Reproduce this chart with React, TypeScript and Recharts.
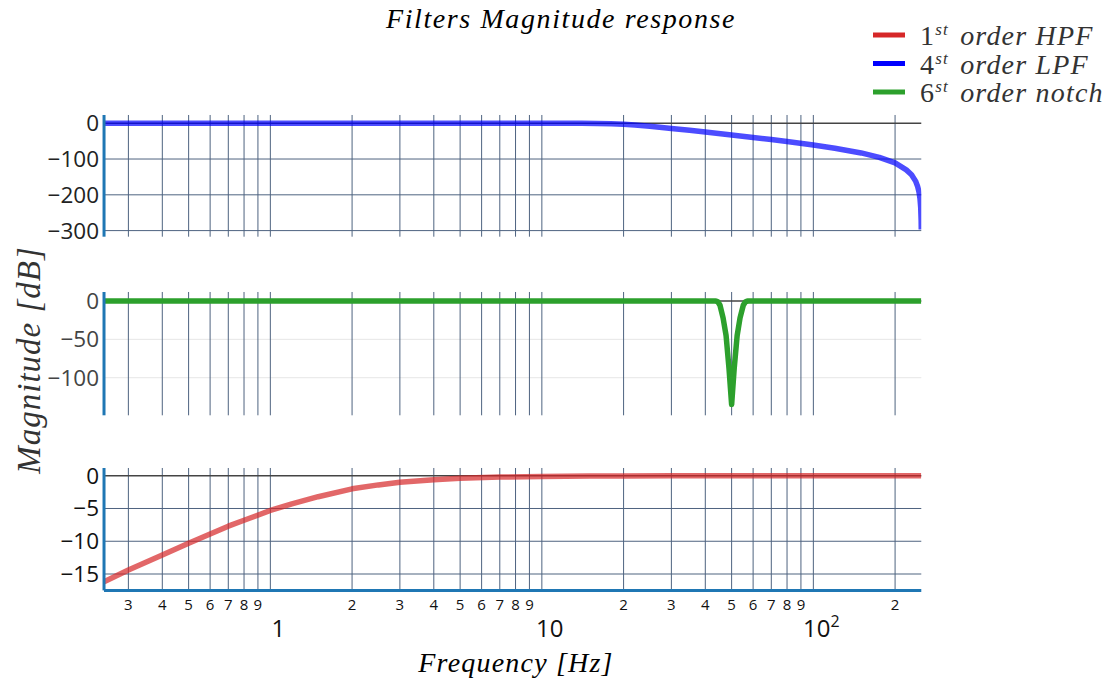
import React from 'react';
import { LineChart, Line, XAxis, YAxis, ReferenceLine } from 'recharts';

// frequency axis (Hz, log)
const X_DOMAIN = [0.244, 249.76];
const X_TICKS = [0.3, 0.4, 0.5, 0.6, 0.7, 0.8, 0.9, 1, 2, 3, 4, 5, 6, 7, 8, 9, 10, 20, 30, 40, 50, 60, 70, 80, 90, 100, 200];
const X_MAJOR = [1, 10, 100];

// 4th order LPF
const LPF_FREQ = [0.244, 5, 10, 12, 14, 16, 18, 20, 22, 25, 30, 35, 40, 50, 60, 70, 80, 100, 120, 150, 175, 200, 220, 230, 238, 242, 245, 247, 248.5, 249.5, 249.76];
const LPF_DB = [0, 0, 0, -0.1, -0.2, -0.7, -1.6, -3, -5, -8.5, -14.5, -19.9, -24.7, -32.8, -39.7, -45.7, -51.1, -60.8, -69.7, -83, -95.3, -110.9, -130.3, -143.8, -161.7, -175.8, -192.1, -209.9, -233.9, -272, -297];
const LPF_TICKS = [0, -100, -200, -300];

// 6th order notch
const NOTCH_FREQ = [0.244, 43.5, 44, 44.5, 45.3, 46.5, 47.7, 48.9, 50, 51.1, 52.4, 53.7, 55.2, 56.2, 57, 57.5, 249.76];
const NOTCH_DB = [0, 0, -0.3, -1, -5.6, -22, -45, -88, -135, -88, -45, -22, -5.6, -1, -0.3, 0, 0];
const NOTCH_TICKS = [0, -50, -100];

// 1st order HPF
const HPF_FREQ = [0.244, 0.3, 0.4, 0.5, 0.6, 0.7, 0.8, 1, 1.2, 1.5, 2, 2.5, 3, 4, 5, 7, 10, 15, 20, 30, 50, 100, 249.76];
const HPF_DB = [-16.2, -14.4, -12.1, -10.3, -8.9, -7.7, -6.8, -5.3, -4.3, -3.2, -2.0, -1.4, -1.0, -0.6, -0.4, -0.2, -0.1, -0.05, -0.03, -0.01, 0, 0, 0];
const HPF_TICKS = [0, -5, -10, -15];

const LEGEND = [
  { num: '1', rest: ' order HPF', color: '#d62728' },
  { num: '4', rest: ' order LPF', color: '#0000ff' },
  { num: '6', rest: ' order notch', color: '#2ca02c' },
];

const toRows = (f: number[], v: number[]) => f.map((x, i) => ({ f: x, db: v[i] }));

const W = 1113;
const LEFT = 44;
const YW = 60;
const RIGHT = 191.7;
const GRID = '#4d6280';
const AXIS = '#1f77b4';
const MATH = "'Liberation Serif', serif";
const SANS = "'Open Sans', sans-serif";

const minus = (v: number) => String(v).replace('-', '\u2212');

const XTick = (props: any) => {
  const { x, y, payload } = props;
  const v = payload.value;
  if (X_MAJOR.includes(v)) {
    return (
      <text x={x + 8} y={y + 47} textAnchor="middle" fontFamily={SANS} fontSize={24} fill="#111">
        {v === 100 ? (
          <>
            10<tspan dy={-10} fontSize={16}>2</tspan>
          </>
        ) : (
          String(v)
        )}
      </text>
    );
  }
  const digit = Math.round(v / Math.pow(10, Math.floor(Math.log10(v) + 1e-9)));
  return (
    <text x={x} y={y + 19.5} textAnchor="middle" fontFamily={SANS} fontSize={15} fill="#111">
      {digit}
    </text>
  );
};

type PanelProps = {
  top: number;
  plotH: number;
  data: { f: number; db: number }[];
  domain: number[];
  ticks: number[];
  color: string;
  opacity: number;
  hGrid: string;
  labelColor: string;
  showX?: boolean;
};

const Panel = ({ top, plotH, data, domain, ticks, color, opacity, hGrid, labelColor, showX }: PanelProps) => {
  const xh = showX ? 60 : 0;
  const height = 10 + plotH + (showX ? 0 : 10) + xh;
  return (
    <div style={{ position: 'absolute', left: 0, top }}>
      <LineChart
        width={W}
        height={height}
        data={data}
        margin={{ top: 10, right: RIGHT, left: LEFT, bottom: showX ? 0 : 10 }}
      >
        <XAxis
          dataKey="f"
          type="number"
          scale="log"
          domain={X_DOMAIN}
          allowDataOverflow
          ticks={X_TICKS}
          interval={0}
          hide={!showX}
          height={xh}
          tickLine={false}
          tickSize={0}
          tickMargin={0}
          axisLine={{ stroke: AXIS, strokeWidth: 3 }}
          tick={<XTick />}
        />
        <YAxis
          type="number"
          domain={domain}
          allowDataOverflow
          ticks={ticks}
          interval={0}
          width={YW}
          tickLine={false}
          tickSize={0}
          tickMargin={5}
          axisLine={{ stroke: AXIS, strokeWidth: 3 }}
          tickFormatter={minus}
          tick={{ fontFamily: SANS, fontSize: 22.5, fill: labelColor }}
        />
        {ticks
          .filter((t) => t !== 0)
          .map((t) => (
            <ReferenceLine key={`h${t}`} y={t} stroke={hGrid} strokeWidth={1} />
          ))}
        {X_TICKS.map((t) => (
          <ReferenceLine key={`v${t}`} x={t} stroke={GRID} strokeWidth={1} />
        ))}
        <ReferenceLine y={0} stroke="#444" strokeWidth={1.5} />
        <Line
          dataKey="db"
          type="linear"
          stroke={color}
          strokeOpacity={opacity}
          strokeWidth={5.5}
          strokeLinejoin="round"
          dot={false}
          isAnimationActive={false}
        />
      </LineChart>
    </div>
  );
};

export default function App() {
  return (
    <div style={{ position: 'absolute', left: 0, top: 0, width: W, height: 684, background: '#fff', overflow: 'hidden' }}>
      <Panel
        top={105}
        plotH={121.7}
        data={toRows(LPF_FREQ, LPF_DB)}
        domain={[-317, 23]}
        ticks={LPF_TICKS}
        color="#0000ff"
        opacity={0.7}
        hGrid={GRID}
        labelColor="#222"
      />
      <Panel
        top={281.7}
        plotH={123.3}
        data={toRows(NOTCH_FREQ, NOTCH_DB)}
        domain={[-149, 11.7]}
        ticks={NOTCH_TICKS}
        color="#2ca02c"
        opacity={1}
        hGrid="#e6e6e6"
        labelColor="#444"
      />
      <Panel
        top={458.3}
        plotH={122.4}
        data={toRows(HPF_FREQ, HPF_DB)}
        domain={[-17.5, 1.18]}
        ticks={HPF_TICKS}
        color="#d62728"
        opacity={0.7}
        hGrid={GRID}
        labelColor="#111"
        showX
      />
      <svg width={W} height={684} style={{ position: 'absolute', left: 0, top: 0, pointerEvents: 'none' }}>
        <text x={561} y={28} textAnchor="middle" fontFamily={MATH} fontStyle="italic" fontSize={28} letterSpacing={1.6} fill="#000">
          Filters Magnitude response
        </text>
        <text
          x={0}
          y={0}
          transform="translate(40 360) rotate(-90)"
          textAnchor="middle"
          fontFamily={MATH}
          fontStyle="italic"
          fontSize={33}
          letterSpacing={1}
          fill="#333"
        >
          Magnitude [dB]
        </text>
        <text x={516} y={672} textAnchor="middle" fontFamily={MATH} fontStyle="italic" fontSize={28} letterSpacing={1.2} fill="#000">
          Frequency [Hz]
        </text>
        {LEGEND.map((l, i) => (
          <g key={l.num}>
            <line x1={873} x2={905} y1={35 + i * 28.5} y2={35 + i * 28.5} stroke={l.color} strokeWidth={5} />
            <text x={920} y={45 + i * 28.5} fontFamily={MATH} fontSize={28} letterSpacing={1.2} fill="#333">
              {l.num}
              <tspan dy={-10} fontSize={17} fontStyle="italic">st</tspan>
              <tspan dy={10} dx={3} fontStyle="italic">{l.rest}</tspan>
            </text>
          </g>
        ))}
      </svg>
    </div>
  );
}
